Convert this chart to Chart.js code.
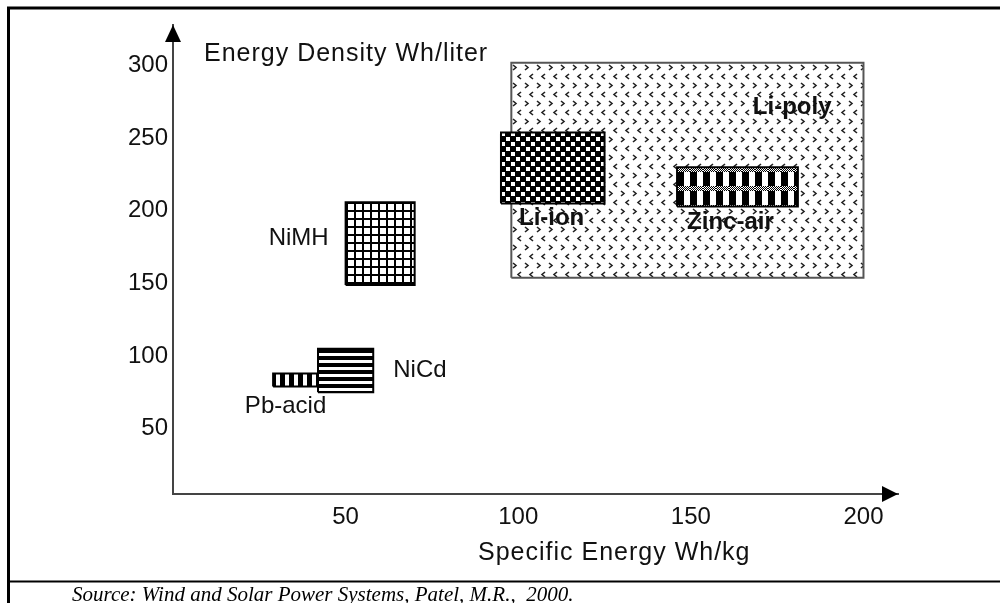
<!DOCTYPE html>
<html>
<head>
<meta charset="utf-8">
<script src="https://cdn.jsdelivr.net/npm/chart.js@4.4.1/dist/chart.umd.min.js"></script>
<style>
  html, body { margin: 0; padding: 0; background: #fff; }
  #wrap { position: relative; width: 1000px; height: 603px; }
  #wrap canvas { display: block; }
</style>
</head>
<body>
<div id="wrap"><canvas id="myChart"></canvas></div>
<script>
// battery types, ranges
const chemistries = ["Pb-acid", "NiCd", "NiMH", "Li-ion", "Zinc-air", "Li-poly"];
const specEnergyLow = [29, 42, 50, 95, 146, 98]; // Wh/kg
const specEnergyHigh = [42, 58, 70, 125, 181, 200];
const densityLow = [79, 75, 149, 205, 203, 154]; // Wh/liter
const densityHigh = [88, 105, 206, 254, 230, 302];
const xTicks = [50, 100, 150, 200];
const yTicks = [50, 100, 150, 200, 250, 300];

const xTitle = "Specific Energy Wh/kg";
const yTitle = "Energy Density Wh/liter";
const sourceNote = "Source: Wind and Solar Power Systems, Patel, M.R.,  2000.";

// where each name goes, relative to its box (pixels)
const labelPlace = {
  "Pb-acid": { ax: "c", ay: "b", dx: -10, dy: 20, align: "center", bold: false },
  "NiCd": { ax: "r", ay: "c", dx: 20, dy: 0, align: "left", bold: false },
  "NiMH": { ax: "l", ay: "c", dx: -17, dy: -5, align: "right", bold: false },
  "Li-ion": { ax: "l", ay: "b", dx: 18, dy: 15, align: "left", bold: true },
  "Zinc-air": { ax: "c", ay: "b", dx: -7, dy: 16, align: "center", bold: true },
  "Li-poly": { ax: "r", ay: "t", dx: -32, dy: 45, align: "right", bold: true },
};

function tile(w, h, paint) {
  const c = document.createElement("canvas");
  c.width = w;
  c.height = h;
  const g = c.getContext("2d");
  g.fillStyle = "#fff";
  g.fillRect(0, 0, w, h);
  paint(g);
  return g.createPattern(c, "repeat");
}

// hatch patterns like the scanned figure
const pbPattern = tile(9, 9, (g) => {
  g.fillStyle = "#000";
  g.fillRect(0, 0, 3, 9);
  g.fillRect(7, 0, 2, 9);
});
const nicdPattern = tile(8, 7, (g) => {
  g.fillStyle = "#000";
  g.fillRect(0, 0, 8, 4);
});
const nimhPattern = tile(8, 8, (g) => {
  g.fillStyle = "#000";
  g.fillRect(0, 0, 8, 2);
  g.fillRect(0, 0, 2, 8);
});
const lionPattern = tile(10, 10, (g) => {
  g.fillStyle = "#000";
  g.fillRect(0, 0, 10, 10);
  g.fillStyle = "#fff";
  g.fillRect(0, 0, 4, 4);
  g.fillRect(5, 5, 4, 4);
});
const zincPattern = tile(13, 19, (g) => {
  g.fillStyle = "#000";
  for (let y = 0; y < 5; y++) {
    for (let x = 0; x < 13; x += 2) {
      g.fillRect(x + (y % 2), y, 1, 1);
    }
  }
  g.fillRect(0, 5, 7, 14);
});
const polyPattern = tile(12, 18, (g) => {
  g.strokeStyle = "#222";
  g.lineWidth = 1.6;
  g.beginPath();
  g.moveTo(2, 2);
  g.lineTo(5, 4.5);
  g.lineTo(2, 7);
  g.moveTo(10, 11);
  g.lineTo(7, 13.5);
  g.lineTo(10, 16);
  g.stroke();
});
const patterns = [pbPattern, nicdPattern, nimhPattern, lionPattern, zincPattern, polyPattern];

const datasets = chemistries.map((name, i) => ({
  label: name,
  data: [
    { x: specEnergyLow[i], y: densityLow[i] },
    { x: specEnergyHigh[i], y: densityLow[i] },
    { x: specEnergyHigh[i], y: densityHigh[i] },
    { x: specEnergyLow[i], y: densityHigh[i] },
    { x: specEnergyLow[i], y: densityLow[i] },
  ],
  showLine: true,
  fill: "shape",
  backgroundColor: patterns[i],
  borderColor: name == "Li-poly" ? "#555" : "#000",
  borderWidth: 2,
  borderJoinStyle: "miter",
  pointRadius: 0,
  tension: 0,
  order: name == "Li-poly" ? 1 : 0,
}));

const boxPlugin = {
  id: "boxStuff",
  beforeDraw(chart) {
    const ctx = chart.ctx;
    ctx.save();
    ctx.strokeStyle = "#000";
    ctx.lineWidth = 3;
    ctx.beginPath();
    ctx.moveTo(8.5, 603);
    ctx.lineTo(8.5, 8);
    ctx.lineTo(1000, 8);
    ctx.stroke();
    ctx.lineWidth = 2;
    ctx.beginPath();
    ctx.moveTo(8, 581.5);
    ctx.lineTo(1000, 581.5);
    ctx.stroke();
    ctx.restore();
  },
  beforeDatasetsDraw(chart) {
    // line patterns up with each box corner
    const xs = chart.scales.x;
    const ys = chart.scales.y;
    chemistries.forEach((name, i) => {
      const px = Math.round(xs.getPixelForValue(specEnergyLow[i]));
      const py = Math.round(ys.getPixelForValue(densityHigh[i]));
      patterns[i].setTransform(new DOMMatrix([1, 0, 0, 1, px, py]));
    });
  },
  afterDraw(chart) {
    const ctx = chart.ctx;
    const a = chart.chartArea;
    const xs = chart.scales.x;
    const ys = chart.scales.y;
    ctx.save();
    // arrow heads
    ctx.fillStyle = "#000";
    ctx.beginPath();
    ctx.moveTo(a.left, a.top);
    ctx.lineTo(a.left - 8, a.top + 17);
    ctx.lineTo(a.left + 8, a.top + 17);
    ctx.closePath();
    ctx.fill();
    ctx.beginPath();
    ctx.moveTo(a.right, a.bottom);
    ctx.lineTo(a.right - 16, a.bottom - 8);
    ctx.lineTo(a.right - 16, a.bottom + 8);
    ctx.closePath();
    ctx.fill();

    // names next to the boxes
    ctx.fillStyle = "#111";
    ctx.textBaseline = "middle";
    chemistries.forEach((name, i) => {
      const p = labelPlace[name];
      const l = xs.getPixelForValue(specEnergyLow[i]);
      const r = xs.getPixelForValue(specEnergyHigh[i]);
      const t = ys.getPixelForValue(densityHigh[i]);
      const b = ys.getPixelForValue(densityLow[i]);
      const x = (p.ax == "l" ? l : p.ax == "r" ? r : (l + r) / 2) + p.dx;
      const y = (p.ay == "t" ? t : p.ay == "b" ? b : (t + b) / 2) + p.dy;
      ctx.font = (p.bold ? "bold " : "") + "24px 'Liberation Sans', Arial, sans-serif";
      ctx.textAlign = p.align;
      ctx.fillText(name, x, y);
    });

    // axis titles
    ctx.font = "25px 'Liberation Sans', Arial, sans-serif";
    ctx.letterSpacing = "1px";
    ctx.textAlign = "left";
    ctx.fillText(yTitle, a.left + 31, 54);
    ctx.fillText(xTitle, a.left + 305, 553);
    ctx.letterSpacing = "0px";

    // source line
    ctx.font = "italic 21px 'Liberation Serif', 'Times New Roman', serif";
    ctx.textBaseline = "alphabetic";
    ctx.fillStyle = "#000";
    ctx.fillText(sourceNote, 72, 601);
    ctx.restore();
  },
};

let ctx = document.getElementById("myChart").getContext("2d");
let myChart = new Chart(ctx, {
  type: "scatter",
  data: { datasets: datasets },
  options: {
    responsive: true,
    maintainAspectRatio: false,
    animation: false,
    events: [],
    layout: { padding: { top: 25, right: 102, left: 0, bottom: 0 } },
    plugins: {
      legend: { display: false },
      tooltip: { enabled: false },
    },
    scales: {
      x: {
        type: "linear",
        min: 0,
        max: 210,
        afterBuildTicks: (s) => {
          s.ticks = xTicks.map((v) => ({ value: v }));
        },
        afterFit: (s) => {
          s.height = 109;
        },
        grid: { display: false, drawTicks: false },
        border: { display: true, color: "#444", width: 2 },
        ticks: {
          font: { family: "'Liberation Sans', Arial, sans-serif", size: 24 },
          color: "#111",
          padding: 9,
          maxRotation: 0,
          autoSkip: false,
        },
      },
      y: {
        type: "linear",
        min: 5,
        max: 328,
        afterBuildTicks: (s) => {
          s.ticks = yTicks.map((v) => ({ value: v }));
        },
        afterFit: (s) => {
          s.width = 173;
        },
        grid: { display: false, drawTicks: false },
        border: { display: true, color: "#444", width: 2 },
        ticks: {
          font: { family: "'Liberation Sans', Arial, sans-serif", size: 24 },
          color: "#111",
          padding: 5,
          autoSkip: false,
        },
      },
    },
  },
  plugins: [boxPlugin],
});
</script>
</body>
</html>
